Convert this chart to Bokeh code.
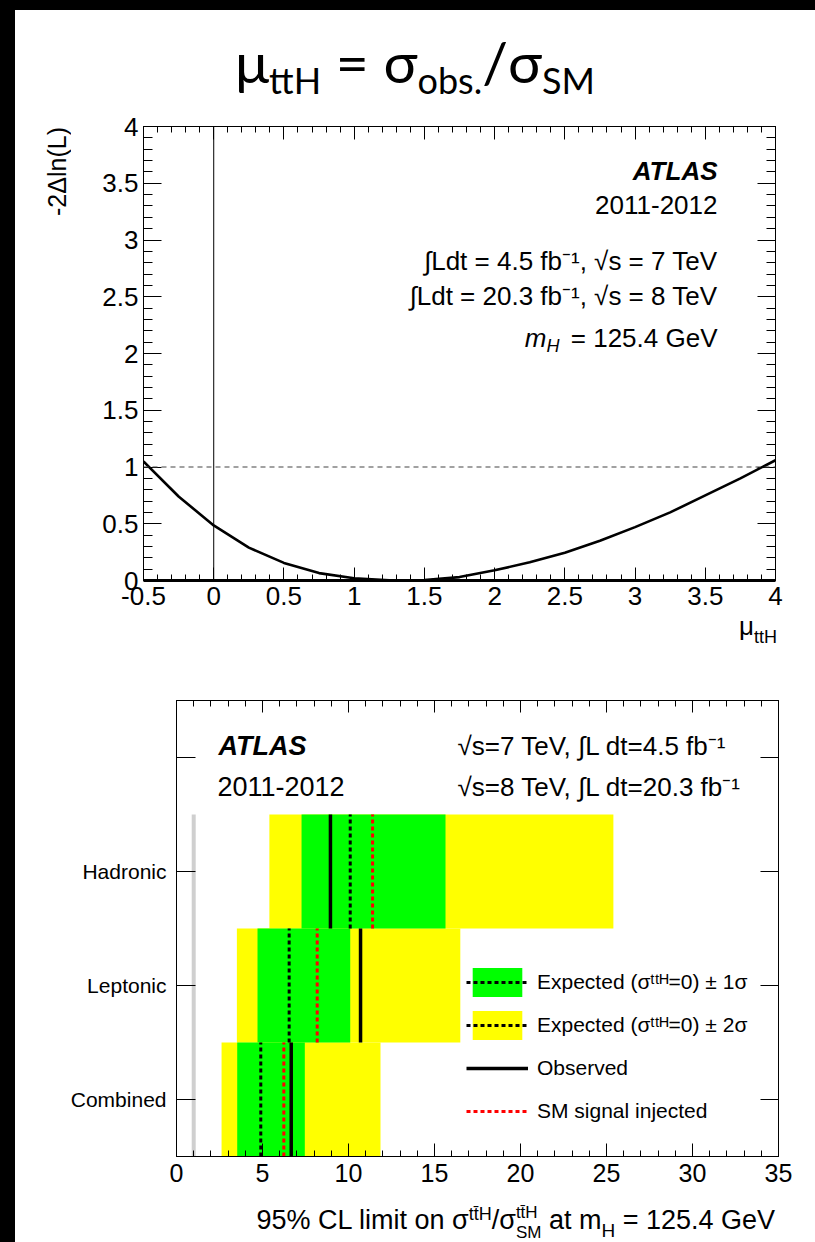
import math
from bokeh.plotting import figure
from bokeh.models import (LinearAxis, SingleIntervalTicker, FixedTicker, Span, Label,
                          Legend, LegendItem, ColumnDataSource, Div)
from bokeh.layouts import row, column
from bokeh.embed import file_html
from bokeh.resources import INLINE

FONT = "Liberation Sans"

# ---------------- data: top panel (likelihood scan) ----------------
mu_values = [-0.5, -0.25, 0.0, 0.25, 0.5, 0.75, 1.0, 1.25, 1.5, 1.75, 2.0,
             2.25, 2.5, 2.75, 3.0, 3.25, 3.5, 3.75, 4.0]
nll_values = [1.05, 0.74, 0.485, 0.29, 0.155, 0.065, 0.02, 0.002, 0.003, 0.03, 0.09,
              0.16, 0.245, 0.35, 0.47, 0.60, 0.75, 0.90, 1.06]
mu_ticks = [-0.5, 0, 0.5, 1, 1.5, 2, 2.5, 3, 3.5, 4]
mu_tick_labels = ["-0.5", "0", "0.5", "1", "1.5", "2", "2.5", "3", "3.5", "4"]
nll_ticks = [0, 0.5, 1, 1.5, 2, 2.5, 3, 3.5, 4]
nll_tick_labels = ["0", "0.5", "1", "1.5", "2", "2.5", "3", "3.5", "4"]
mu_zero = 0.0
one_sigma_level = 1.0

# ---------------- data: bottom panel (95% CL limits) ----------------
categories = ["Hadronic", "Leptonic", "Combined"]
observed = [8.95, 10.7, 6.67]
expected = [10.1, 6.55, 4.9]
sm_injected = [11.4, 8.18, 6.24]
exp_minus2 = [5.4, 3.51, 2.62]
exp_minus1 = [7.27, 4.71, 3.53]
exp_plus1 = [15.64, 10.1, 7.46]
exp_plus2 = [25.4, 16.5, 11.86]
sm_reference = 1.0
limit_ticks = [0, 5, 10, 15, 20, 25, 30, 35]
limit_tick_labels = ["0", "5", "10", "15", "20", "25", "30", "35"]
legend_labels = ["Expected (σᵗᵗᴴ=0) ± 1σ", "Expected (σᵗᵗᴴ=0) ± 2σ",
                 "Observed", "SM signal injected"]


def style_axis(ax, size, tick_in, minor_in, standoff):
    ax.axis_line_color = "black"
    ax.major_tick_in = tick_in
    ax.major_tick_out = 0
    ax.minor_tick_in = minor_in
    ax.minor_tick_out = 0
    ax.major_tick_line_color = "black"
    ax.minor_tick_line_color = "black"
    ax.major_label_text_font = FONT
    ax.major_label_text_color = "black"
    ax.major_label_standoff = standoff
    ax.major_label_text_font_size = size


def lab(p, text, x, y, xo, yo, size, align="left", style="normal"):
    p.add_layout(Label(x=x, y=y, x_offset=xo, y_offset=yo, text=text, text_font=FONT,
                       text_font_size=size, text_align=align, text_baseline="alphabetic",
                       text_font_style=style, text_color="black"))


# ======================= top figure =======================
p1 = figure(width=740, height=502, x_range=(-0.5, 4), y_range=(0, 4),
            output_backend="svg", toolbar_location=None,
            min_border_left=68, min_border_right=40, min_border_top=16, min_border_bottom=32,
            background_fill_color="white", border_fill_color="white")
p1.grid.visible = False
p1.outline_line_color = "black"
p1.outline_line_width = 1

p1.xaxis.ticker = SingleIntervalTicker(interval=0.5, num_minor_ticks=5)
p1.yaxis.ticker = SingleIntervalTicker(interval=0.5, num_minor_ticks=5)
p1.xaxis.major_label_overrides = dict(zip(mu_ticks, mu_tick_labels))
p1.yaxis.major_label_overrides = dict(zip(nll_ticks, nll_tick_labels))
style_axis(p1.xaxis[0], "26px", 13, 6, 6)
style_axis(p1.yaxis[0], "26px", 18, 9, 5)
p1.xaxis.axis_line_width = 3

ax_top = LinearAxis(ticker=SingleIntervalTicker(interval=0.5, num_minor_ticks=5),
                    major_label_overrides={t: "" for t in mu_ticks})
style_axis(ax_top, "10px", 13, 6, 0)
p1.add_layout(ax_top, "above")
ax_right = LinearAxis(ticker=SingleIntervalTicker(interval=0.5, num_minor_ticks=5),
                      major_label_overrides={t: "" for t in nll_ticks})
style_axis(ax_right, "10px", 18, 9, 0)
p1.add_layout(ax_right, "right")

p1.add_layout(Span(location=mu_zero, dimension="height", line_color="black", line_width=1))
p1.add_layout(Span(location=one_sigma_level, dimension="width", line_color="#444444",
                   line_width=1.2, line_dash="5 4"))
p1.line(mu_values, nll_values, line_color="black", line_width=2.6)

lab(p1, "ATLAS", 4, 4, -58, -44, "26px", "right", "bold italic")
lab(p1, "2011-2012", 4, 4, -58, -78, "26px", "right")
lab(p1, "∫Ldt = 4.5 fb⁻¹, √s = 7 TeV", 4, 4, -58, -134, "26px", "right")
lab(p1, "∫Ldt = 20.3 fb⁻¹, √s = 8 TeV", 4, 4, -58, -169, "26px", "right")
lab(p1, "= 125.4 GeV", 4, 4, -58, -211, "26px", "right")
lab(p1, "H", 4, 4, -216, -219, "18px", "right", "italic")
lab(p1, "m", 4, 4, -229, -211, "26px", "right", "italic")

# ======================= bottom figure =======================
n_cat = len(categories)
ypos = [n_cat - i - 0.5 for i in range(n_cat)]
src = ColumnDataSource(dict(
    y=ypos, ylo=[v - 0.5 for v in ypos], yhi=[v + 0.5 for v in ypos],
    m2=exp_minus2, m1=exp_minus1, p1=exp_plus1, p2=exp_plus2,
    exp=expected, obs=observed, sm=sm_injected))

p2 = figure(width=800, height=526, x_range=(0, 35), y_range=(0, n_cat + 1),
            output_backend="svg", toolbar_location=None,
            min_border_left=161, min_border_right=37, min_border_top=30, min_border_bottom=40,
            background_fill_color="white", border_fill_color="white")
p2.grid.visible = False
p2.outline_line_color = "black"
p2.outline_line_width = 1

p2.xaxis.ticker = SingleIntervalTicker(interval=5, num_minor_ticks=5)
p2.xaxis.major_label_overrides = dict(zip(limit_ticks, limit_tick_labels))
style_axis(p2.xaxis[0], "25px", 13, 6, 7)
cat_ticks = [n_cat - i - 0.5 for i in range(n_cat)] + [n_cat + 0.5]
p2.yaxis.ticker = FixedTicker(ticks=cat_ticks, minor_ticks=[])
p2.yaxis.major_label_overrides = dict(zip(cat_ticks, categories + [""]))
style_axis(p2.yaxis[0], "21px", 19, 0, 10)

ax_top2 = LinearAxis(ticker=SingleIntervalTicker(interval=5, num_minor_ticks=5),
                     major_label_overrides={t: "" for t in limit_ticks})
style_axis(ax_top2, "10px", 12, 6, 0)
p2.add_layout(ax_top2, "above")
ax_right2 = LinearAxis(ticker=FixedTicker(ticks=cat_ticks, minor_ticks=[]),
                       major_label_overrides={t: "" for t in cat_ticks})
style_axis(ax_right2, "10px", 18, 0, 0)
p2.add_layout(ax_right2, "right")

p2.segment(x0=[sm_reference], y0=[0], x1=[sm_reference], y1=[n_cat],
           line_color="#cfcfcf", line_width=4)
r_y = p2.hbar(y="y", left="m2", right="p2", height=1, source=src,
              fill_color="#ffff00", line_color=None)
r_g = p2.hbar(y="y", left="m1", right="p1", height=1, source=src,
              fill_color="#00ff00", line_color=None)
r_exp = p2.segment(x0="exp", y0="ylo", x1="exp", y1="yhi", source=src,
                   line_color="black", line_width=3, line_dash="4 3")
r_obs = p2.segment(x0="obs", y0="ylo", x1="obs", y1="yhi", source=src,
                   line_color="black", line_width=3.5)
r_sm = p2.segment(x0="sm", y0="ylo", x1="sm", y1="yhi", source=src,
                  line_color="#ff0000", line_width=3, line_dash="4 3")

legend = Legend(items=[
    LegendItem(label=legend_labels[0], renderers=[r_g, r_exp]),
    LegendItem(label=legend_labels[1], renderers=[r_y, r_exp]),
    LegendItem(label=legend_labels[2], renderers=[r_obs]),
    LegendItem(label=legend_labels[3], renderers=[r_sm]),
], location=(290, 27), orientation="vertical", glyph_width=62, glyph_height=36,
    spacing=7, label_standoff=9, padding=0, margin=0, border_line_color=None,
    background_fill_alpha=0, label_text_font=FONT, label_text_font_size="21px",
    label_text_color="black")
p2.add_layout(legend)

lab(p2, "ATLAS", 0, n_cat + 1, 42, -45, "27px", "left", "bold italic")
lab(p2, "2011-2012", 0, n_cat + 1, 41, -86, "27px", "left")
lab(p2, "√s=7 TeV, ∫L dt=4.5 fb⁻¹", 0, n_cat + 1, 281, -45, "26px", "left")
lab(p2, "√s=8 TeV, ∫L dt=20.3 fb⁻¹", 0, n_cat + 1, 281, -86, "26px", "left")

# ======================= text blocks outside the frames =======================
LS = "font-family:'Liberation Sans', Arial, sans-serif; color:#000; white-space:nowrap;"

sub = 'font-size:36px; position:relative; top:11px;'
title_html = ('<div style="font-family: Lato, sans-serif; font-size:57px; color:#000; '
              'text-align:center; width:800px; line-height:57px; padding-top:23px; white-space:nowrap;">'
              'μ<span style="' + sub + '">ttH</span> = σ<span style="' + sub + '">obs.</span>'
              '/σ<span style="' + sub + '">SM</span></div>')

ylab_html = ('<div style="padding-left:30px; padding-top:17px;">'
             '<div style="' + LS + 'writing-mode:vertical-rl; transform:rotate(180deg); '
             'font-size:25px; line-height:25px;">-2Δln(L)</div></div>')

mu_html = ('<div style="' + LS + 'width:762px; text-align:right; font-size:26px; '
           'line-height:26px; padding-top:1px;">μ<span style="font-size:18px; '
           'position:relative; top:8px;">ttH</span></div>')

sup = 'font-size:17px; line-height:17px; position:relative; top:-11px;'
xlab_html = ('<div style="' + LS + 'width:760px; text-align:right; font-size:27px; '
             'line-height:27px; padding-top:11px;">95% CL limit on σ'
             '<span style="font-size:18px; position:relative; top:-9px;">tt̄H</span>/σ'
             '<span style="' + sup + ' display:inline-block; width:0px;">tt̄H</span>'
             '<span style="font-size:17px; line-height:17px; position:relative; top:9px;">SM</span>'
             ' at m<span style="font-size:19px; position:relative; top:8px;">H</span>'
             ' = 125.4 GeV</div>')

left_bar = Div(text="", width=15, height=1242, margin=0,
               styles={"background-color": "black"})
top_bar = Div(text="", width=800, height=10, margin=0,
              styles={"background-color": "black"})
title_div = Div(text=title_html, width=800, height=100, margin=0,
                styles={"background-color": "white"})
ylab_div = Div(text=ylab_html, width=60, height=502, margin=0,
               styles={"background-color": "white"})
mu_div = Div(text=mu_html, width=800, height=58, margin=0,
             styles={"background-color": "white"})
xlab_div = Div(text=xlab_html, width=800, height=46, margin=0,
               styles={"background-color": "white"})

top_row = row(ylab_div, p1, spacing=0)
layout = row(left_bar,
             column(top_bar, title_div, top_row, mu_div, p2, xlab_div, spacing=0),
             spacing=0)

open("out.html", "w").write(file_html(layout, INLINE))
